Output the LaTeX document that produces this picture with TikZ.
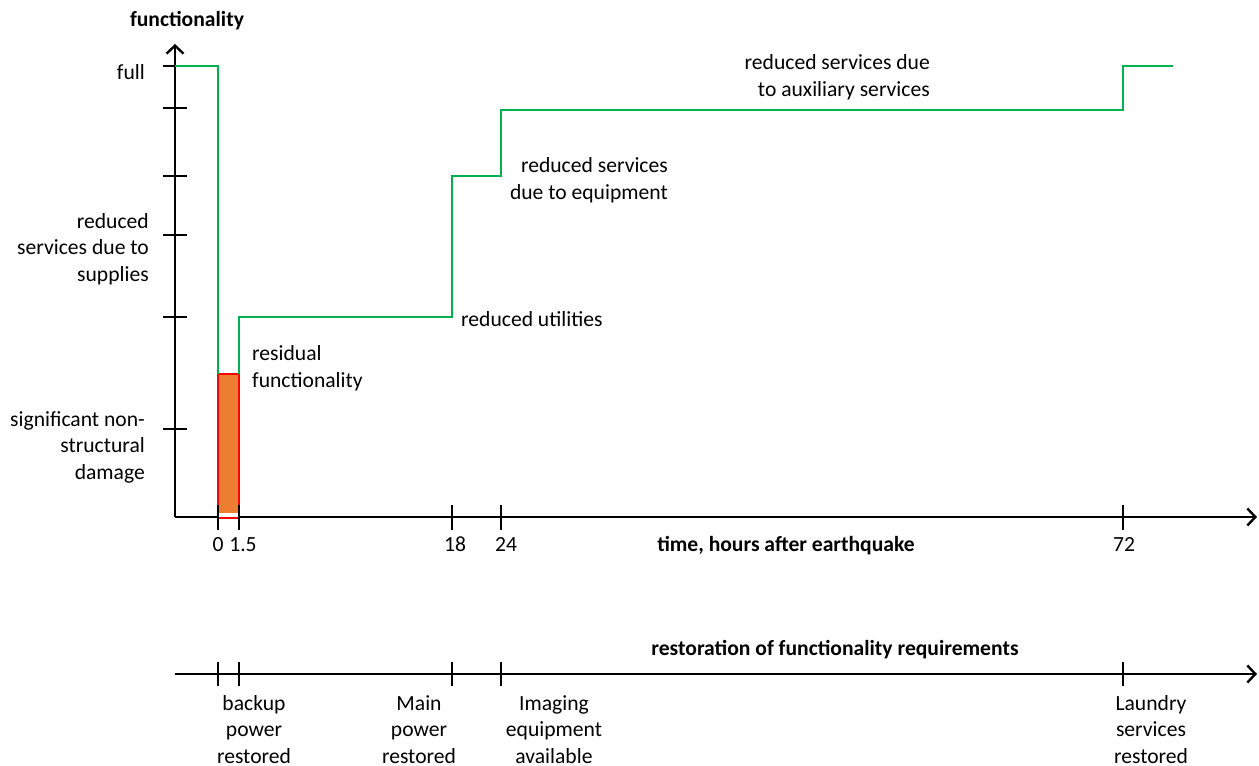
\documentclass[tikz,border=0pt]{standalone}
\usepackage{fontspec}
\setmainfont{Carlito}
\usetikzlibrary{arrows.meta}
\definecolor{stepgreen}{HTML}{00B050}
\definecolor{barorange}{HTML}{ED7D31}
\begin{document}
\begin{tikzpicture}[x=1pt,y=-1pt,
  font=\fontsize{21.6}{26.3}\selectfont,
  axisline/.style={line width=2.4pt,-{Straight Barb[length=8pt,width=17pt]}},
  tickmark/.style={line width=2.4pt},
  curve/.style={stepgreen,line width=2.4pt},
  lbl/.style={inner sep=0pt,anchor=base},
  rlbl/.style={inner sep=0pt,align=right,anchor=base east},
  clbl/.style={inner sep=0pt,align=center,anchor=base},
  ttl/.style={inner sep=0pt,anchor=base,font=\fontsize{21.6}{26.3}\selectfont\bfseries}]
\useasboundingbox (0,0) rectangle (1259,766);

% origin and axis ends
\coordinate (O) at (175,517);
\coordinate (ytop) at (175,44);
\coordinate (xend) at (1257,517);
\coordinate (tl0) at (175,674);
\coordinate (tl1) at (1257,674);

% residual functionality bar
\fill[barorange] (218,374) rectangle (239,513);
\draw[red,line width=1.6pt] (218,374) rectangle (239,518);

% functionality axis
\draw[axisline] (O) -- (ytop);
\foreach \yy in {108,176,235,317,429}
  \draw[tickmark] (163,\yy) -- (187,\yy);
\draw[tickmark] (163,66) -- (175,66);

% time axis (the bar covers it between 0 and 1.5)
\draw[tickmark] (O) -- (218,517);
\draw[axisline] (239,517) -- (xend);
\foreach \xx in {218,239,452,501,1123}
  \draw[tickmark] (\xx,505) -- (\xx,530);

% restored functionality
\draw[curve] (175,66) -- (218,66) -- (218,374);
\draw[curve] (239,374) -- (239,317) -- (452,317) -- (452,176) -- (501,176)
  -- (501,110) -- (1123,110) -- (1123,66) -- (1173,66);

% axis labels
\node[ttl] (ylab) at (187,26) {functionality};
\node[ttl] (xlab) at (786,551) {time, hours after earthquake};
\node[lbl] (t0) at (218,551) {0};
\node[lbl] (t15) at (243,551) {1.5};
\node[lbl] (t18) at (455,551) {18};
\node[lbl] (t24) at (506,551) {24};
\node[lbl] (t72) at (1124,551) {72};

\node[rlbl] (full) at (145,79) {full};
\node[rlbl] (supp) at (149,281) {reduced\\services due to\\supplies};
\node[rlbl] (dmg) at (145,479) {significant non-\\structural\\damage};

% step labels
\node[inner sep=0pt,anchor=base west,align=left] (resid) at (252,387) {residual\\functionality};
\node[inner sep=0pt,anchor=base west] (util) at (461,326) {reduced utilities};
\node[rlbl] (equip) at (668,199) {reduced services\\due to equipment};
\node[rlbl] (aux) at (930,96) {reduced services due\\to auxiliary services};

% requirements timeline
\draw[axisline] (tl0) -- (tl1);
\foreach \xx in {218,239,452,501,1123}
  \draw[tickmark] (\xx,662) -- (\xx,686);
\node[ttl] (req) at (835,655) {restoration of functionality requirements};
\node[clbl] (bkp) at (254,763) {backup\\power\\restored};
\node[clbl] (mainp) at (419,763) {Main\\power\\restored};
\node[clbl] (img) at (554,763) {Imaging\\equipment\\available};
\node[clbl] (laun) at (1151,763) {Laundry\\services\\restored};
\end{tikzpicture}
\end{document}
